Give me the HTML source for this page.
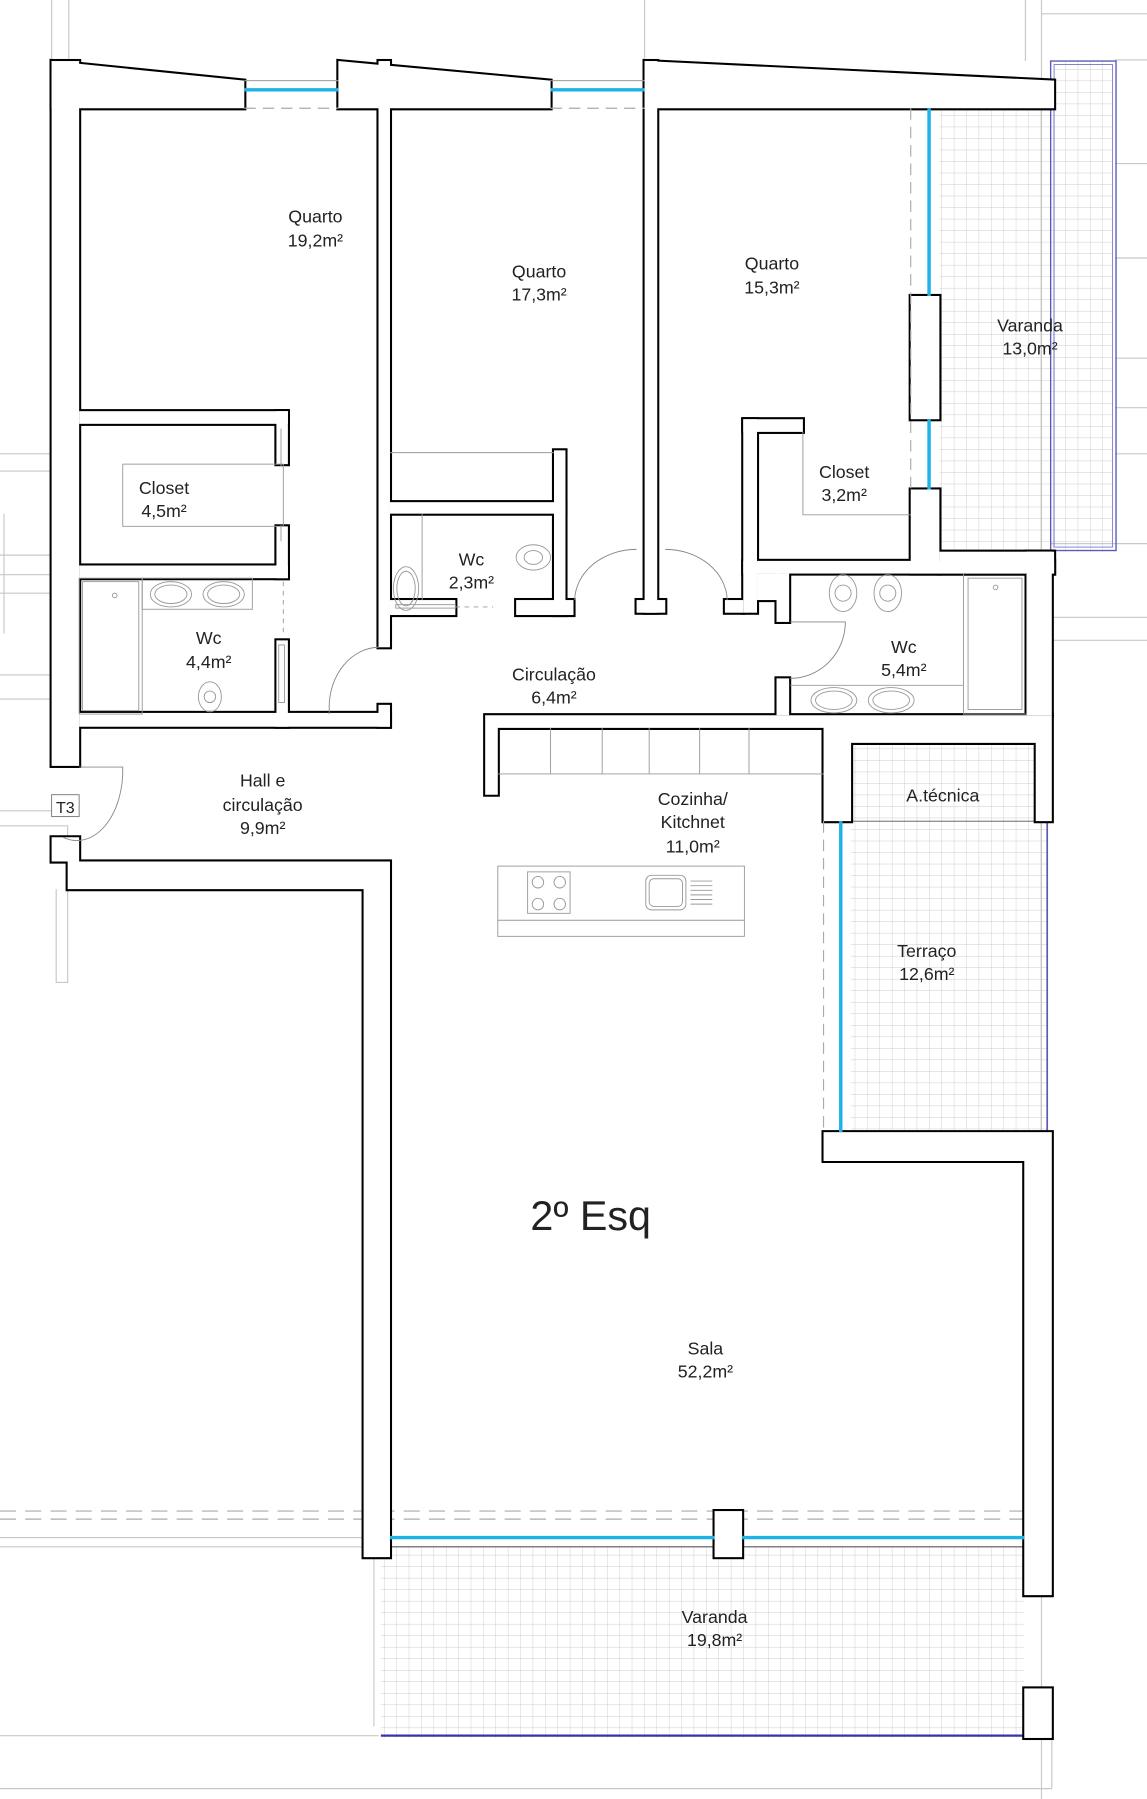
<!DOCTYPE html>
<html><head><meta charset="utf-8"><style>
html,body{margin:0;padding:0;background:#fff;}
svg{display:block;}
text{font-family:"Liberation Sans",sans-serif;fill:#222;text-anchor:middle;}
</style></head><body>
<svg width="1147" height="1799" viewBox="0 0 1000 1562" preserveAspectRatio="none" xmlns="http://www.w3.org/2000/svg">
<defs>
<pattern id="tile" x="0" y="0" width="10.8" height="10" patternUnits="userSpaceOnUse">
<path d="M0 0H10.8M0 0V10" stroke="#bbb" stroke-width="0.6" fill="none"/>
</pattern>
<g id="walls">
<polygon points="45,53 213,70 213,94 45,94"/>
<polygon points="295,53 480,70 480,94 295,94"/>
<polygon points="562,53 919,70 919,94 562,94"/>
<rect x="45" y="53" width="24" height="612"/>
<rect x="330" y="53" width="10" height="509"/>
<rect x="330" y="612" width="10" height="19"/>
<rect x="69" y="357" width="182" height="11"/>
<rect x="241" y="357" width="10" height="46"/>
<rect x="241" y="457" width="10" height="45"/>
<rect x="69" y="491" width="182" height="11"/>
<rect x="241" y="556" width="10" height="75"/>
<rect x="69" y="619" width="271" height="12"/>
<rect x="340" y="436" width="153" height="10"/>
<rect x="483" y="391" width="10" height="143"/>
<rect x="340" y="521" width="57" height="13"/>
<rect x="450" y="521" width="50" height="13"/>
<rect x="562" y="53" width="11" height="479"/>
<rect x="555" y="521" width="25" height="11"/>
<rect x="794" y="257" width="25" height="107"/>
<rect x="794" y="425" width="25" height="73"/>
<rect x="648" y="487" width="271" height="11"/>
<rect x="819" y="479" width="100" height="19"/>
<rect x="895" y="479" width="22" height="142"/>
<rect x="648" y="364" width="12" height="168"/>
<rect x="648" y="364" width="52" height="11"/>
<rect x="632" y="521" width="16" height="11"/>
<rect x="660" y="498" width="19" height="23"/>
<rect x="677" y="498" width="11" height="42"/>
<rect x="677" y="589" width="11" height="32"/>
<polygon points="423,621 917,621 917,713 903,713 903,645 742,645 742,713 718,713 718,632 434,632 434,690 423,690"/>
<polygon points="718,983 917,983 917,1385 893,1385 893,1008 718,1008"/>
<rect x="893" y="1466" width="24" height="43"/>
<polygon points="45,727 69,727 69,748 340,748 340,1352 317,1352 317,772 59,772 59,748 45,748"/>
<rect x="623" y="1312" width="24" height="40"/>
</g>
</defs>

<g stroke="#c8c8c8" stroke-width="1" fill="none">
<path d="M45 0V53M60 0V53M562 0V53M894 0V53M908 0V1562"/>
<path d="M908 12H1000M972 52H1000M972 142H1000M972 224H1000M972 311H1000M972 354H1000M972 394H1000M916 472H1000M916 536H1000M916 556H1000"/>
<path d="M0 394H45M0 409H45M0 482H45M0 499H45M0 515H45M3.5 446V550M0 586H45M0 607H45M0 704H45M0 717H59V853H49V772"/>
<path d="M0 1335H317M0 1343H317M326 1352V1499M0 1507H330M0 1553H917M917 1509V1553"/>
</g>
<g stroke="#aaa" stroke-width="1" stroke-dasharray="14 8" fill="none">
<path d="M0 1312H893M0 1319H893"/>
</g>

<rect x="819" y="94" width="151" height="385" fill="url(#tile)"/>
<rect x="919" y="53" width="51" height="41" fill="url(#tile)"/>
<rect x="916" y="53" width="57" height="425" fill="none" stroke="#5a5ab8" stroke-width="1.2"/>
<rect x="919" y="56" width="51" height="419" fill="none" stroke="#7a7ad0" stroke-width="0.8"/>
<rect x="742" y="645" width="171" height="338" fill="url(#tile)"/>
<path d="M913 713V983" stroke="#5a5ab8" stroke-width="1.5"/>
<path d="M742 713H903" stroke="#555" stroke-width="0.8"/>
<rect x="332" y="1343" width="561" height="166" fill="url(#tile)"/>
<path d="M332 1507H893" stroke="#3333aa" stroke-width="2"/>
<path d="M340 1343H893" stroke="#555" stroke-width="1"/>

<use href="#walls" fill="#000" stroke="#000" stroke-width="3.6" stroke-linejoin="miter"/>
<use href="#walls" fill="#fff" stroke="none"/>

<g stroke="#999" stroke-width="0.8" fill="none">
<path d="M213 70H295M480 70H562"/>
</g>
<g stroke="#aaa" stroke-width="1" stroke-dasharray="10 6" fill="none">
<path d="M213 94H295M480 94H562M794 94V425M718 713V983"/>
</g>
<g stroke="#1db2e8" stroke-width="3" fill="none">
<path d="M213 78H295M480 78H562M810 94V257M810 364V425M733 713V983M340 1335H623M647 1335H893"/>
</g>

<g stroke="#888" stroke-width="0.8" fill="none">
<path d="M287 620V612M287 614 A44 52 0 0 1 330 562"/>
<path d="M501 521 A54 45 0 0 1 555 477"/>
<path d="M634 521 A54 45 0 0 0 580 477"/>
<path d="M689 540H737 A48 49 0 0 1 689 589"/>
<path d="M69 666H107 A40 61 0 0 1 55 727"/>
</g>

<g stroke="#999" stroke-width="0.8" fill="none">
<rect x="107" y="403" width="140" height="54"/>
<path d="M245 372V405M245 456V470"/>
<rect x="69" y="502" width="55" height="118"/><rect x="72" y="505" width="49" height="112"/>
<circle cx="100" cy="517" r="2"/>
<rect x="124" y="502" width="96" height="27"/>
<ellipse cx="149" cy="516" rx="18" ry="11"/><ellipse cx="149" cy="516" rx="14" ry="8"/>
<ellipse cx="195" cy="516" rx="18" ry="11"/><ellipse cx="195" cy="516" rx="14" ry="8"/>
<ellipse cx="183" cy="605" rx="10" ry="13"/><circle cx="183" cy="605" r="5"/>
<rect x="243" y="560" width="5" height="50"/>
<path d="M247 505V550" stroke-dasharray="4 4"/>
<path d="M368 446V521"/>
<ellipse cx="354" cy="511" rx="11" ry="19"/><ellipse cx="354" cy="511" rx="8" ry="15"/>
<ellipse cx="465" cy="484" rx="15" ry="11"/><ellipse cx="465" cy="484" rx="8" ry="6"/>
<rect x="345" y="525" width="52" height="3"/>
<path d="M397 527H430" stroke-dasharray="4 4"/>
<path d="M340 393H483"/>
<path d="M700 375V447H794"/>
<ellipse cx="735" cy="515" rx="12" ry="16"/><circle cx="735" cy="515" r="7"/>
<ellipse cx="774" cy="515" rx="12" ry="16"/><circle cx="774" cy="515" r="7"/>
<path d="M689 595H840"/>
<ellipse cx="727" cy="608" rx="20" ry="11"/><ellipse cx="727" cy="608" rx="16" ry="8"/>
<ellipse cx="777" cy="608" rx="20" ry="11"/><ellipse cx="777" cy="608" rx="16" ry="8"/>
<rect x="840" y="498" width="55" height="122"/><rect x="844" y="502" width="47" height="114"/>
<circle cx="868" cy="510" r="2"/>
<path d="M434 672H718M480 632V672M525 632V672M566 632V672M610 632V672M653 632V672"/>
<rect x="434" y="752" width="215" height="61"/>
<path d="M434 799H649"/>
<rect x="460" y="757" width="37" height="36"/>
<circle cx="469" cy="766" r="5"/><circle cx="488" cy="766" r="5"/>
<circle cx="469" cy="785" r="5"/><circle cx="488" cy="785" r="5"/>
<rect x="563" y="760" width="35" height="30" rx="5"/><rect x="566" y="763" width="29" height="24" rx="4"/>
<path d="M602 765H621M602 769H621M602 773H621M602 777H621M602 781H621M602 785H621"/>
<rect x="45" y="690" width="24" height="19" stroke="#777"/>
</g>

<g font-size="15.5">
<text x="275" y="193">Quarto</text><text x="275" y="214">19,2m²</text>
<text x="470" y="241">Quarto</text><text x="470" y="261">17,3m²</text>
<text x="673" y="234">Quarto</text><text x="673" y="255">15,3m²</text>
<text x="898" y="288">Varanda</text><text x="898" y="308">13,0m²</text>
<text x="143" y="429">Closet</text><text x="143" y="449">4,5m²</text>
<text x="736" y="415">Closet</text><text x="736" y="435">3,2m²</text>
<text x="411" y="491">Wc</text><text x="411" y="511">2,3m²</text>
<text x="182" y="559">Wc</text><text x="182" y="580">4,4m²</text>
<text x="788" y="567">Wc</text><text x="788" y="587">5,4m²</text>
<text x="483" y="591">Circulação</text><text x="483" y="611">6,4m²</text>
<text x="229" y="683">Hall e</text><text x="229" y="704">circulação</text><text x="229" y="724">9,9m²</text>
<text x="604" y="699">Cozinha/</text><text x="604" y="719">Kitchnet</text><text x="604" y="740">11,0m²</text>
<text x="822" y="696">A.técnica</text>
<text x="808" y="831">Terraço</text><text x="808" y="851">12,6m²</text>
<text x="615" y="1176">Sala</text><text x="615" y="1196">52,2m²</text>
<text x="623" y="1409">Varanda</text><text x="623" y="1429">19,8m²</text>
<text x="57" y="706" font-size="14">T3</text>
</g>
<text x="515" y="1068" font-size="36">2º Esq</text>
</svg>
</body></html>
